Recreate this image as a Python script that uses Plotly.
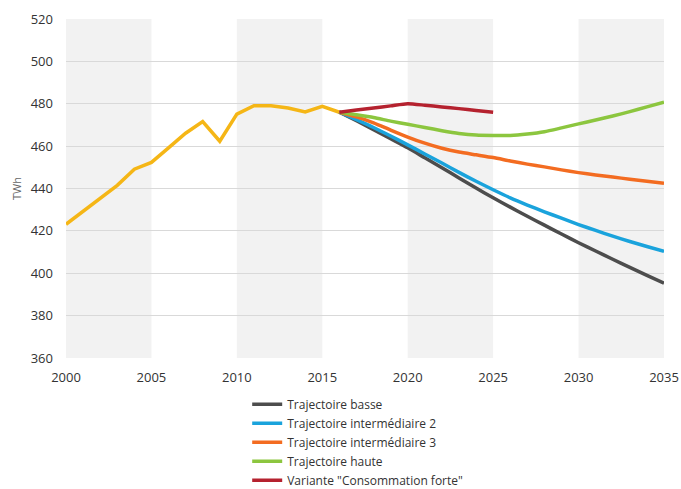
import plotly.graph_objects as go

# Historical consumption
hist_years = list(range(2000, 2017))
hist_vals = [423.1, 429.2, 435.6, 441.5, 449.1, 452.3, 459.2, 466.1, 471.6, 462.3,
             475.1, 479.1, 479.1, 478.0, 476.1, 478.8, 476.0]

proj_years = list(range(2016, 2036))
basse = [476.0, 472.0, 467.8, 463.5, 459.2, 454.5, 449.8, 445.0, 440.2, 435.6,
         431.2, 426.9, 422.7, 418.5, 414.4, 410.5, 406.6, 402.8, 399.0, 395.3]
inter2 = [476.0, 472.5, 468.8, 464.8, 460.6, 456.3, 452.0, 447.6, 443.4, 439.4,
          435.6, 432.2, 429.0, 426.0, 423.0, 420.2, 417.5, 415.0, 412.6, 410.3]
inter3 = [476.0, 473.8, 471.0, 467.6, 464.3, 461.4, 459.0, 457.2, 455.9, 454.6,
          453.0, 451.5, 450.2, 448.8, 447.5, 446.4, 445.4, 444.4, 443.4, 442.5]
haute = [476.0, 474.8, 473.5, 471.8, 470.3, 468.8, 467.3, 466.0, 465.2, 465.0,
         465.0, 465.7, 466.8, 468.6, 470.5, 472.3, 474.2, 476.3, 478.5, 480.8]
forte_years = list(range(2016, 2026))
forte = [476.0, 477.0, 478.0, 479.0, 480.0, 479.3, 478.5, 477.7, 476.8, 476.0]

series_names = ["Trajectoire basse", "Trajectoire intermédiaire 2",
                "Trajectoire intermédiaire 3", "Trajectoire haute",
                "Variante \"Consommation forte\""]
colors = ["#4d4d4d", "#1aa3dc", "#f36c21", "#8cc63f", "#b5222f"]
hist_color = "#f5b616"

band_starts = [2000, 2010, 2020, 2030]
band_width = 5
y_ticks = list(range(360, 521, 20))
x_ticks = list(range(2000, 2036, 5))

fig = go.Figure()

fig.add_trace(go.Scatter(x=hist_years, y=hist_vals, mode="lines",
                         line=dict(color=hist_color, width=3.5),
                         showlegend=False))

for name, xs, ys, c in zip(series_names,
                           [proj_years, proj_years, proj_years, proj_years, forte_years],
                           [basse, inter2, inter3, haute, forte], colors):
    fig.add_trace(go.Scatter(x=xs, y=ys, mode="lines", name=name,
                             line=dict(color=c, width=3.5, shape="spline", smoothing=0.6)))

shapes = []
for b in band_starts:
    shapes.append(dict(type="rect", xref="x", yref="paper", x0=b, x1=b + band_width,
                       y0=0, y1=1, fillcolor="#f2f2f2", line=dict(width=0),
                       layer="below"))

fig.update_layout(
    width=681, height=489,
    margin=dict(l=66, r=17, t=19, b=131, autoexpand=False),
    paper_bgcolor="white", plot_bgcolor="white",
    font=dict(family="Open Sans", size=13, color="#333333"),
    shapes=shapes,
    showlegend=True,
    legend=dict(x=0.303, y=-0.094, xanchor="left", yanchor="top",
                font=dict(size=12, color="#333333"),
                tracegroupgap=0, itemwidth=30, bgcolor="rgba(0,0,0,0)"),
    xaxis=dict(range=[2000, 2035], tickvals=x_ticks, showgrid=False,
               zeroline=False, showline=False, ticks="", ticklabelstandoff=10,
               automargin=False),
    yaxis=dict(range=[360, 520], tickvals=y_ticks, showgrid=True,
               gridcolor="#d9d9d9", gridwidth=1, zeroline=False, showline=False,
               ticklabelstandoff=12, automargin=False,
               title=dict(text="TWh", font=dict(size=11, color="#666666"), standoff=6)),
)

fig.write_html("out.html", post_script="document.body.style.margin='0px';",
               config={"displayModeBar": False})
